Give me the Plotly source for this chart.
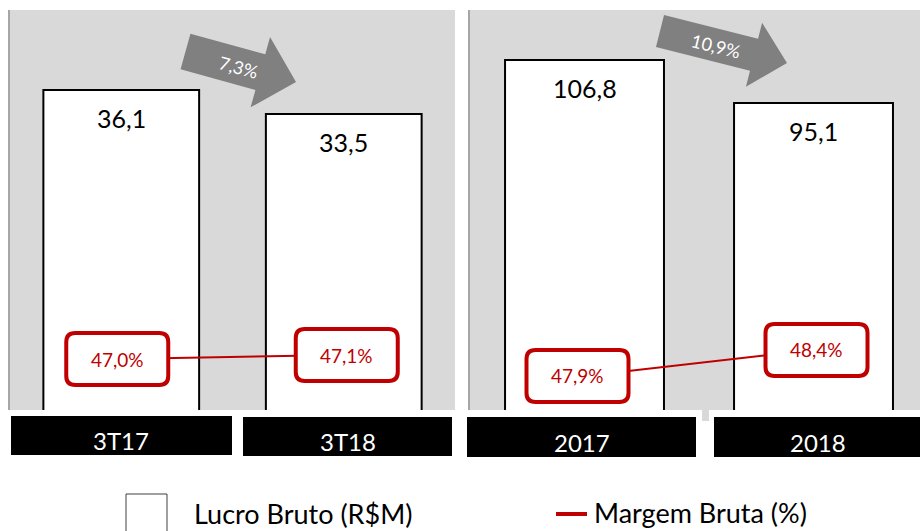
import math
import plotly.graph_objects as go

# ---------------- data ----------------
cats_tri = ["3T17", "3T18"]
lucro_tri = [36.1, 33.5]
margem_tri = [47.0, 47.1]
var_tri = "7,3%"

cats_ano = ["2017", "2018"]
lucro_ano = [106.8, 95.1]
margem_ano = [47.9, 48.4]
var_ano = "10,9%"

legend_labels = ["Lucro Bruto (R$M)", "Margem Bruta (%)"]

# ---------------- style / layout constants ----------------
W, H = 920, 531
FONT = "Lato"
RED = "#c00000"
PANEL = "#d9d9d9"
ARROW = "#808080"
BOX_SHIFT = {"x": [(-4, 0), (3, 0)], "x2": [(-7, 0), (3, 0)]}  # label box pixel nudges


def px(x):
    return x / W


def py(y):
    return 1 - y / H


def fmt(v, suffix=""):
    return f"{v:.1f}".replace(".", ",") + suffix


ydom = [py(410), py(10)]

fig = go.Figure()

# bars
fig.add_trace(go.Bar(x=[0, 1], y=lucro_tri, xaxis="x", yaxis="y", width=0.70,
                     marker=dict(color="white", line=dict(color="black", width=2)),
                     hoverinfo="skip"))
fig.add_trace(go.Bar(x=[0, 1], y=lucro_ano, xaxis="x2", yaxis="y2", width=0.694,
                     marker=dict(color="white", line=dict(color="black", width=2)),
                     hoverinfo="skip"))
# margin lines
fig.add_trace(go.Scatter(x=[0, 1], y=margem_tri, xaxis="x", yaxis="y3", mode="lines",
                         line=dict(color=RED, width=2), hoverinfo="skip"))
fig.add_trace(go.Scatter(x=[0, 1], y=margem_ano, xaxis="x2", yaxis="y4", mode="lines",
                         line=dict(color=RED, width=2), hoverinfo="skip"))

shapes = []
annotations = []

# bar value labels
for xa, ya, vals in (("x", "y", lucro_tri), ("x2", "y2", lucro_ano)):
    for i, v in enumerate(vals):
        annotations.append(dict(x=i, y=v, xref=xa, yref=ya, text=fmt(v), showarrow=False,
                                xanchor="center", yanchor="top", yshift=-11,
                                font=dict(family=FONT, size=25, color="black")))

# margin label boxes (rounded rectangles) + texts
hw, hh, r = 51, 26, 9


def rr_path(dx, dy):
    pts = dict(l=-hw + dx, r_=hw + dx, b=-hh + dy, t=hh + dy)
    l, rr, b, t = pts["l"], pts["r_"], pts["b"], pts["t"]
    return (f"M {l + r},{b} L {rr - r},{b} Q {rr},{b} {rr},{b + r} "
            f"L {rr},{t - r} Q {rr},{t} {rr - r},{t} L {l + r},{t} "
            f"Q {l},{t} {l},{t - r} L {l},{b + r} Q {l},{b} {l + r},{b} Z")


for xa, ya, vals in (("x", "y3", margem_tri), ("x2", "y4", margem_ano)):
    for i, m in enumerate(vals):
        dx, dy = BOX_SHIFT[xa][i]
        shapes.append(dict(type="path", xref=xa, yref=ya, xsizemode="pixel", ysizemode="pixel",
                           xanchor=i, yanchor=m, path=rr_path(dx, dy), fillcolor="white",
                           line=dict(color=RED, width=4), layer="above"))
        annotations.append(dict(x=i, y=m, xref=xa, yref=ya, text=fmt(m, "%"), showarrow=False,
                                xanchor="center", yanchor="middle", xshift=dx, yshift=dy,
                                font=dict(family=FONT, size=19, color=RED)))

# small gray notch between the right category boxes
shapes.append(dict(type="rect", xref="paper", yref="paper", x0=px(702), x1=px(709),
                   y0=py(421), y1=py(409), fillcolor=PANEL, line=dict(width=0), layer="below"))

# black category boxes + labels
cat_boxes = [(11, 232, 416, 455), (243, 452, 417, 456), (467, 696, 417, 457), (714, 921, 417, 457)]
for (x0, x1, y0, y1), lab in zip(cat_boxes, cats_tri + cats_ano):
    shapes.append(dict(type="rect", xref="paper", yref="paper", x0=px(x0), x1=px(x1),
                       y0=py(y1), y1=py(y0), fillcolor="black", line=dict(width=0)))
    annotations.append(dict(x=px((x0 + x1) / 2), y=py((y0 + y1) / 2 + 5), xref="paper", yref="paper",
                            text=lab, showarrow=False, xanchor="center", yanchor="middle",
                            font=dict(family=FONT, size=24, color="white")))


# arrows
def arrow_path(tail, tip, sw, hwid, hl):
    dx, dy = tip[0] - tail[0], tip[1] - tail[1]
    L = math.hypot(dx, dy)
    ux, uy = dx / L, dy / L
    nx, ny = uy, -ux
    hb = (tip[0] - ux * hl, tip[1] - uy * hl)
    pts = [
        (tail[0] + nx * sw / 2, tail[1] + ny * sw / 2),
        (hb[0] + nx * sw / 2, hb[1] + ny * sw / 2),
        (hb[0] + nx * hwid / 2, hb[1] + ny * hwid / 2),
        tip,
        (hb[0] - nx * hwid / 2, hb[1] - ny * hwid / 2),
        (hb[0] - nx * sw / 2, hb[1] - ny * sw / 2),
        (tail[0] - nx * sw / 2, tail[1] - ny * sw / 2),
    ]
    return "M " + " L ".join(f"{px(x):.5f},{py(y):.5f}" for x, y in pts) + " Z"


arrows = [
    (dict(tail=(185.5, 51.5), tip=(296, 82), sw=37, hwid=73, hl=37), (238, 67), 15, var_tri),
    (dict(tail=(660, 31), tip=(787, 63), sw=33, hwid=66, hl=34), (716, 46), 14, var_ano),
]
for geo, (tx, ty), ang, lab in arrows:
    shapes.append(dict(type="path", xref="paper", yref="paper", path=arrow_path(**geo),
                       fillcolor=ARROW, line=dict(width=0), layer="above"))
    annotations.append(dict(x=px(tx), y=py(ty), xref="paper", yref="paper", text=lab,
                            showarrow=False, textangle=ang, xanchor="center", yanchor="middle",
                            font=dict(family=FONT, size=18, color="white")))

# legend (manual)
shapes.append(dict(type="rect", xref="paper", yref="paper", x0=px(126), x1=px(167),
                   y0=py(540), y1=py(494), fillcolor="white", line=dict(color="#404040", width=1)))
annotations.append(dict(x=px(192), y=py(513), xref="paper", yref="paper", text=legend_labels[0],
                        showarrow=False, xanchor="left", yanchor="middle",
                        font=dict(family=FONT, size=27, color="black")))
shapes.append(dict(type="line", xref="paper", yref="paper", x0=px(556), x1=px(587),
                   y0=py(514), y1=py(514), line=dict(color=RED, width=4)))
annotations.append(dict(x=px(592), y=py(512), xref="paper", yref="paper", text=legend_labels[1],
                        showarrow=False, xanchor="left", yanchor="middle",
                        font=dict(family=FONT, size=27, color="black")))

noax = dict(showgrid=False, zeroline=False, showticklabels=False, ticks="", fixedrange=True)

fig.update_layout(
    width=W, height=H, margin=dict(l=0, r=0, t=0, b=0),
    paper_bgcolor="white", plot_bgcolor=PANEL, showlegend=False,
    xaxis=dict(domain=[px(10), px(455)], range=[-0.5, 1.5], anchor="y", **noax),
    yaxis=dict(domain=ydom, range=[1.43, 44.77], anchor="x", showline=True,
               linecolor="#a6a6a6", linewidth=2, **noax),
    yaxis3=dict(overlaying="y", anchor="x", range=[45.725, 55.725], visible=False, **noax),
    xaxis2=dict(domain=[px(470), 1], range=[-0.5, 1.465], anchor="y2", **noax),
    yaxis2=dict(domain=ydom, range=[11.56, 120.4], anchor="x2", showline=True,
                linecolor="#a6a6a6", linewidth=2, **noax),
    yaxis4=dict(overlaying="y2", anchor="x2", range=[47.246, 54.938], visible=False, **noax),
    shapes=shapes, annotations=annotations,
    font=dict(family=FONT),
)

fig.write_html("out.html")
